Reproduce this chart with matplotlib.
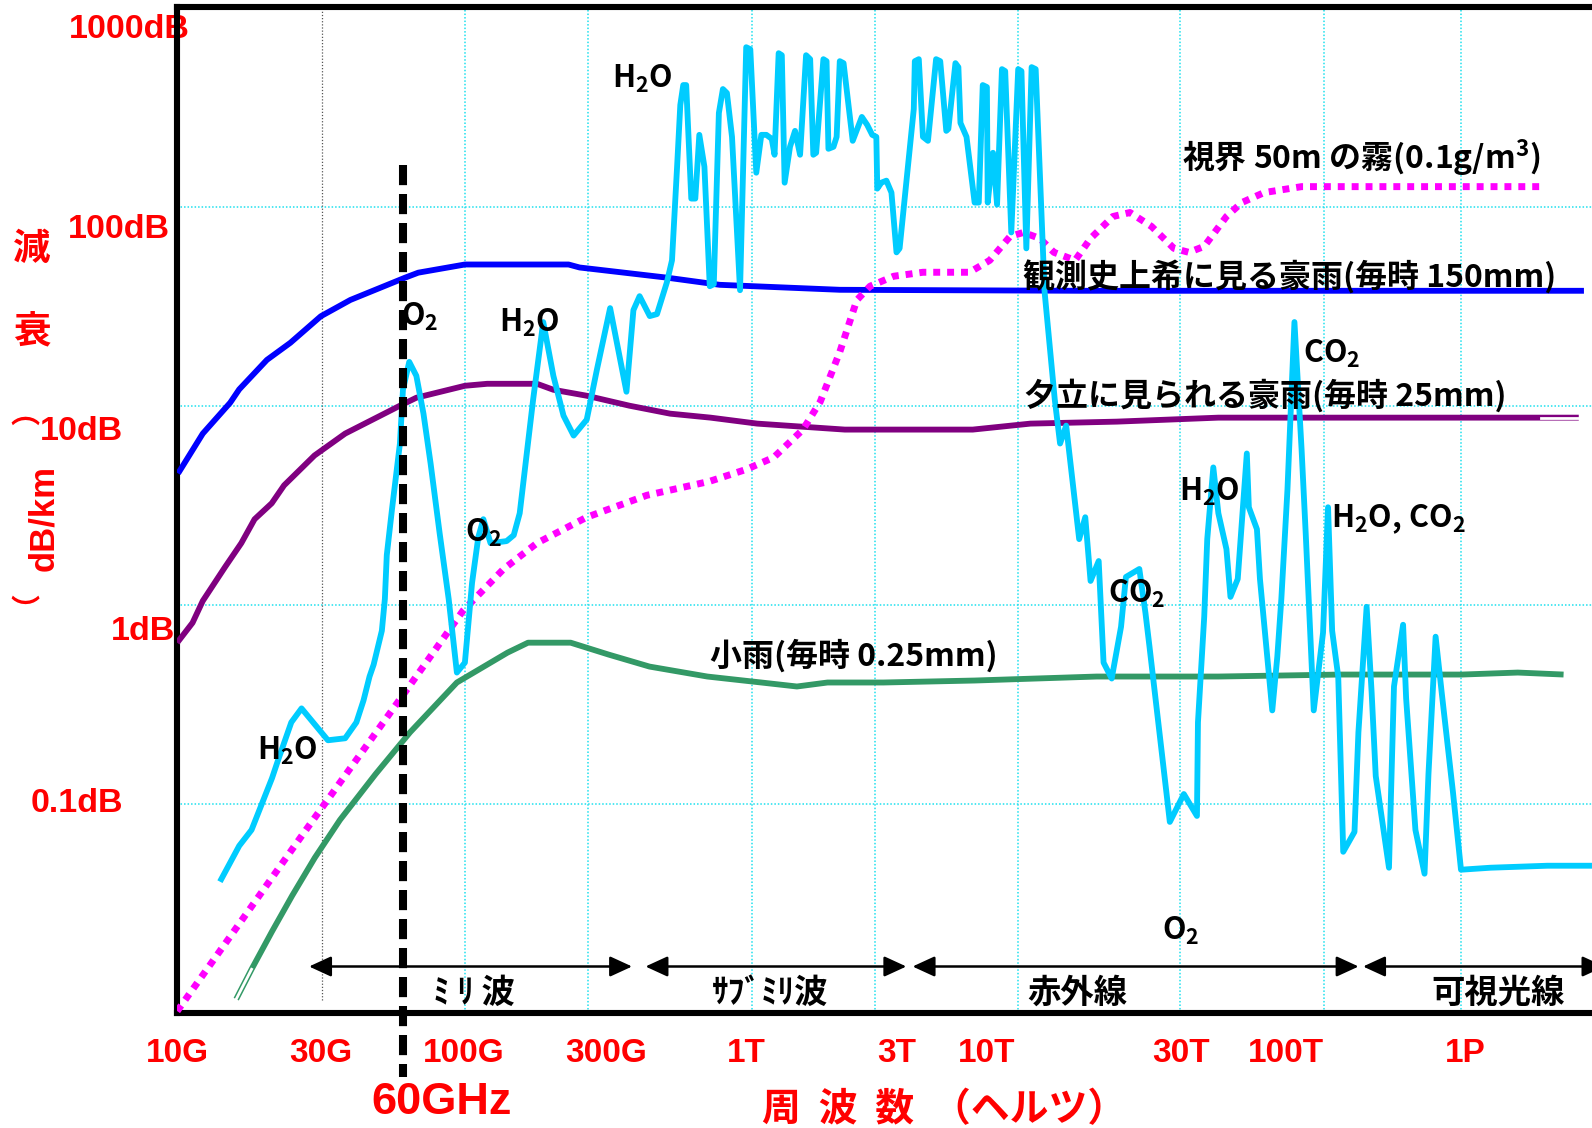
import numpy as np
import matplotlib.pyplot as plt

plt.rcParams['mathtext.fontset'] = 'custom'
plt.rcParams['mathtext.rm'] = 'Noto Sans CJK JP:bold'
plt.rcParams['mathtext.it'] = 'Noto Sans CJK JP:bold'
plt.rcParams['mathtext.bf'] = 'Noto Sans CJK JP:bold'

JP = 'Noto Sans CJK JP'
LATIN = 'Liberation Sans'
RED = '#ff0000'

# frequency values are log10(Hz), attenuation values are log10(dB/km)
freq_ticks = [10.0, 10.477, 11.0, 11.477, 12.0, 12.477, 13.0, 13.477, 14.0, 15.0]
freq_labels = ['10G', '30G', '100G', '300G', '1T', '3T', '10T', '30T', '100T', '1P']
# the frequency axis is laid out by hand, so each label has its own place along it
tick_place = [177.2, 320.8, 464.0, 606.1, 746.2, 896.5, 986.9, 1180.8, 1286.4, 1465.1]

grid_freq = [11.003, 11.416, 12.017, 12.409, 13.077, 13.475, 14.21, 14.975]
grid_freq_30g = 10.48
grid_db = [0.1, 1, 10, 100]

# heavy rain, 150 mm/h
heavy_f = [10.003, 10.085, 10.176, 10.206, 10.298, 10.376, 10.477, 10.585, 10.785,
           10.833, 11.003, 11.351, 11.388, 11.704, 11.901, 12.297, 13.23, 15.665]
heavy_db = [0.66, 0.86, 1.015, 1.082, 1.23, 1.316, 1.449, 1.531, 1.643,
            1.668, 1.709, 1.709, 1.694, 1.643, 1.607, 1.582, 1.577, 1.577]

# evening shower, 25 mm/h (last point is the open end of the stroke)
shower_f = [10.0, 10.051, 10.085, 10.159, 10.213, 10.257, 10.314, 10.355, 10.456, 10.566,
            10.666, 10.766, 10.826, 11.003, 11.078, 11.245, 11.30, 11.412, 11.564, 11.716,
            11.867, 12.035, 12.313, 12.918, 13.107, 13.32, 13.663, 14.188, 15.04, 15.426,
            15.636]
shower_db = [-0.19, -0.09, 0.02, 0.19, 0.31, 0.43, 0.51, 0.60, 0.75, 0.86,
             0.93, 1.0, 1.04, 1.10, 1.11, 1.11, 1.08, 1.05, 1.0, 0.96,
             0.94, 0.91, 0.88, 0.88, 0.91, 0.92, 0.94, 0.94, 0.94, 0.94,
             0.94]

# light rain, 0.25 mm/h (first point is the open end of the stroke)
light_f = [10.196, 10.247, 10.315, 10.382, 10.457, 10.547, 10.677, 10.803, 10.974, 11.146,
           11.215, 11.358, 11.487, 11.639, 11.855, 12.048, 12.161, 12.258, 12.435, 12.93,
           13.27, 13.663, 14.301, 14.983, 15.295, 15.551]
light_db = [-1.98, -1.83, -1.64, -1.46, -1.27, -1.08, -0.85, -0.64, -0.39, -0.24,
            -0.19, -0.19, -0.25, -0.31, -0.36, -0.39, -0.41, -0.39, -0.39, -0.38,
            -0.36, -0.36, -0.35, -0.35, -0.34, -0.35]

# fog, 50 m visibility
fog_f = [10.0, 10.423, 10.789, 10.996, 11.133, 11.245, 11.412, 11.629, 11.863, 12.0,
         12.087, 12.18, 12.235, 12.297, 12.351, 12.393, 12.468, 12.63, 12.9,
         13.007, 13.057, 13.09, 13.13, 13.165, 13.217, 13.255, 13.31, 13.352, 13.405,
         13.46, 13.517, 13.593, 13.703, 13.779, 13.889, 14.085, 14.756, 15.4375]
fog_db = [-2.04, -1.14, -0.43, -0.03, 0.18, 0.31, 0.44, 0.55, 0.62, 0.68,
          0.74, 0.88, 1.02, 1.27, 1.53, 1.60, 1.65, 1.67, 1.67,
          1.73, 1.85, 1.87, 1.84, 1.77, 1.73, 1.84, 1.95, 1.97, 1.90,
          1.79, 1.77, 1.80, 1.95, 2.02, 2.07, 2.10, 2.10, 2.10]

# atmospheric gases (O2, H2O, CO2)
gas_f = [10.142, 10.206, 10.247, 10.315, 10.335, 10.379, 10.413, 10.503, 10.566, 10.607,
         10.633, 10.655, 10.670, 10.700, 10.711, 10.718, 10.737, 10.766, 10.777, 10.800,
         10.826, 10.852, 10.878, 10.911, 10.944, 10.974, 11.003, 11.027, 11.048, 11.065,
         11.089, 11.143, 11.167, 11.187, 11.232, 11.266, 11.300, 11.334, 11.368, 11.412,
         11.446, 11.492, 11.553, 11.579, 11.602, 11.640, 11.667, 11.704, 11.723, 11.742,
         11.754, 11.765, 11.776, 11.795, 11.810, 11.825, 11.844, 11.864, 11.879, 11.898,
         11.913, 11.928, 11.947, 11.977, 12.000, 12.013, 12.032, 12.048, 12.064, 12.081,
         12.090, 12.103, 12.113, 12.122, 12.139, 12.155, 12.171, 12.190, 12.203, 12.213,
         12.222, 12.245, 12.255, 12.261, 12.277, 12.287, 12.297, 12.309, 12.338, 12.367,
         12.384, 12.400, 12.413, 12.416, 12.429, 12.445, 12.461, 12.477, 12.495, 12.577,
         12.583, 12.606, 12.630, 12.659, 12.706, 12.730, 12.765, 12.777, 12.818, 12.835,
         12.847, 12.882, 12.929, 12.953, 12.976, 13.000, 13.002, 13.015, 13.025, 13.037,
         13.045, 13.060, 13.077, 13.085, 13.097, 13.110, 13.120, 13.142, 13.167, 13.180,
         13.195, 13.227, 13.242, 13.255, 13.275, 13.287, 13.307, 13.330, 13.342, 13.375,
         13.390, 13.400, 13.450, 13.492, 13.557, 13.562, 13.593, 13.608, 13.638, 13.663,
         13.703, 13.723, 13.759, 13.804, 13.814, 13.854, 13.869, 13.930, 13.955, 13.975,
         14.006, 14.045, 14.085, 14.108, 14.153, 14.205, 14.233, 14.256, 14.290, 14.318,
         14.381, 14.403, 14.449, 14.477, 14.500, 14.574, 14.602, 14.653, 14.670, 14.722,
         14.773, 14.795, 14.835, 14.869, 14.932, 14.977, 15.142, 15.460, 15.710]
gas_db = [-1.39, -1.21, -1.13, -0.87, -0.78, -0.59, -0.52, -0.68, -0.67, -0.59,
          -0.48, -0.36, -0.30, -0.13, 0.03, 0.25, 0.48, 0.81, 1.08, 1.22,
          1.15, 0.96, 0.71, 0.36, 0.03, -0.34, -0.29, 0.11, 0.34, 0.43,
          0.31, 0.32, 0.35, 0.46, 1.03, 1.42, 1.15, 0.95, 0.85, 0.93,
          1.18, 1.49, 1.07, 1.48, 1.55, 1.45, 1.46, 1.62, 1.73, 2.20,
          2.51, 2.61, 2.61, 2.04, 2.04, 2.36, 2.20, 1.60, 1.61, 2.47,
          2.59, 2.57, 2.35, 1.58, 2.80, 2.79, 2.17, 2.36, 2.36, 2.34,
          2.26, 2.77, 2.76, 2.12, 2.30, 2.38, 2.26, 2.76, 2.74, 2.26,
          2.27, 2.74, 2.73, 2.29, 2.30, 2.35, 2.73, 2.72, 2.33, 2.45,
          2.41, 2.36, 2.35, 2.09, 2.12, 2.13, 2.07, 1.77, 1.79, 2.49,
          2.73, 2.74, 2.35, 2.33, 2.74, 2.73, 2.38, 2.39, 2.72, 2.70,
          2.42, 2.35, 2.02, 2.02, 2.61, 2.60, 2.02, 2.27, 2.01, 2.69,
          2.68, 1.87, 2.69, 2.68, 1.79, 2.70, 2.69, 1.57, 1.03, 0.81,
          0.90, 0.33, 0.44, 0.12, 0.22, -0.29, -0.37, -0.11, 0.14, 0.18,
          -0.04, -0.21, -1.09, -0.95, -1.06, -0.59, -0.06, 0.33, 0.69, 0.46,
          0.28, 0.04, 0.13, 0.76, 0.49, 0.38, 0.13, -0.53, -0.26, 0.03,
          0.58, 1.42, 0.78, 0.36, -0.53, -0.14, 0.49, -0.13, -0.36, -1.24,
          -1.14, -0.64, -0.01, -0.44, -0.86, -1.32, -0.41, -0.10, -0.47, -1.13,
          -1.35, -0.85, -0.16, -0.44, -0.94, -1.33, -1.32, -1.31, -1.31]

# frequency bands along the bottom
band_names = ['ﾐ ﾘ 波', 'ｻﾌﾞﾐﾘ波', '赤外線', '可視光線']
band_lo = [10.438, 11.624, 12.570, 14.429]
band_hi = [11.574, 12.534, 14.404, 15.78]
band_mid = [11.034, 12.076, 13.222, 15.184]

# species / curve annotations: (text, log10 f, log10 dB)
notes = [
    ('H$_2$O', 11.614, 2.641),
    ('O$_2$', 10.839, 1.446),
    ('H$_2$O', 11.219, 1.416),
    ('O$_2$', 11.065, 0.361),
    ('H$_2$O', 10.366, -0.735),
    ('H$_2$O', 13.619, 0.566),
    ('H$_2$O, CO$_2$', 14.626, 0.428),
    ('CO$_2$', 13.369, 0.056),
    ('CO$_2$', 14.251, 1.26),
    ('O$_2$', 13.476, -1.639),
]
curve_notes = [
    ('視界 50m の霧(0.1g/m$^3$)', 14.42, 2.245),
    ('観測史上希に見る豪雨(毎時 150mm)', 14.018, 1.642),
    ('夕立に見られる豪雨(毎時 25mm)', 13.895, 1.048),
    ('小雨(毎時 0.25mm)', 12.34, -0.258),
]

marker_f = np.log10(60e9)

# piecewise axis: extend the hand-placed ticks a decade on both sides
knots_f = [9.0] + freq_ticks + [16.0]
knots_p = [tick_place[0] - 301.0] + tick_place + [tick_place[-1] + 178.7]


def to_axis(v):
    return np.interp(v, knots_f, knots_p)


def from_axis(p):
    return np.interp(p, knots_p, knots_f)


W, H = 1592, 1128
fig = plt.figure(figsize=(W / 100, H / 100), dpi=100)
ax_left, ax_right, ax_top, ax_bottom = 177.2, 1600.0, 7.4, 1012.7
ax = fig.add_axes([ax_left / W, 1 - ax_bottom / H,
                   (ax_right - ax_left) / W, (ax_bottom - ax_top) / H])

ax.set_xscale('function', functions=(to_axis, from_axis))
ax.set_yscale('log')
ax.set_xlim(10.0, from_axis(ax_right))
ax.set_ylim(10 ** -2.048, 10 ** 3.0)

for s in ['left', 'top', 'bottom']:
    ax.spines[s].set_linewidth(4.4)
    ax.spines[s].set_color('black')
ax.spines['right'].set_visible(False)

# grid
grid_kw = dict(color='#1ee0ee', lw=1.1, ls=(0, (1, 1.3)), zorder=1)
for g in grid_db:
    ax.axhline(g, **grid_kw)
for g in grid_freq:
    ax.axvline(g, **grid_kw)
ax.axvline(grid_freq_30g, ymin=0.013, color='#555555', lw=0.9, ls=(0, (1, 1.5)), zorder=1)

line_kw = dict(lw=4.2, solid_joinstyle='round', solid_capstyle='butt')
light_y = 10 ** np.array(light_db)
shower_y = 10 ** np.array(shower_db)
ax.plot(light_f, light_y, color='#339966', zorder=3, **line_kw)
ax.plot(light_f[:2], light_y[:2], color='white', lw=2.0, zorder=3.1)
ax.plot(shower_f, shower_y, color='#800080', zorder=3, **line_kw)
ax.plot(shower_f[-2:], shower_y[-2:], color='white', lw=2.0, zorder=3.1)
ax.plot(heavy_f, 10 ** np.array(heavy_db), color='#0000ff', zorder=3, **line_kw)
ax.plot(fog_f, 10 ** np.array(fog_db), color='#ff00ff', lw=5.0,
        dashes=(1.0, 1.0), dash_capstyle='butt', zorder=4)
ax.plot(gas_f, 10 ** np.array(gas_db), color='#00ccff', zorder=5, **line_kw)

# 60 GHz marker, running down past the axis to its label
ax.plot([marker_f, marker_f], [10 ** 2.207, 10 ** -2.371], color='black', lw=5.8,
        dashes=(2.5, 1.1), dash_capstyle='butt', clip_on=False, zorder=6)

# bands
band_y = 10 ** -1.816
for name, lo, hi, mid in zip(band_names, band_lo, band_hi, band_mid):
    ax.annotate('', xy=(hi, band_y), xytext=(lo, band_y), annotation_clip=False,
                arrowprops=dict(arrowstyle='<|-|>,head_length=1.35,head_width=0.62',
                                mutation_scale=10, lw=1.8, color='black',
                                shrinkA=0, shrinkB=0), zorder=7)
    ax.text(mid, 10 ** -1.95, name, ha='center', va='center', fontsize=24,
            fontweight='bold', family=JP, color='black', zorder=10)

for txt, f, d in notes:
    ax.text(f, 10 ** d, txt, ha='center', va='center', fontsize=22,
            fontweight='bold', family=JP, color='black', zorder=10)
for txt, f, d in curve_notes:
    ax.text(f, 10 ** d, txt, ha='center', va='center', fontsize=23,
            fontweight='bold', family=JP, color='black', zorder=10)

# axis labels
ax.set_xticks(freq_ticks, freq_labels, fontsize=24, fontweight='bold',
              family=LATIN, color=RED)
ax.tick_params(axis='x', length=0, pad=18)
ax.set_yticks([])
ax.minorticks_off()
ax.tick_params(axis='y', which='both', length=0)

ytext = ['1000dB', '100dB', '10dB', '1dB', '0.1dB']
ytext_right = [190, 170, 123, 175, 123]
ytext_mid = [30, 230, 431, 631, 804]
for s, xr, ym in zip(ytext, ytext_right, ytext_mid):
    ax.text(xr / W, 1 - ym / H, s, transform=fig.transFigure, ha='right', va='center',
            fontsize=24.5, fontweight='bold', family=LATIN, color=RED,
            clip_on=False, zorder=1)

ax.text(442 / W, 1 - 1103 / H, '60GHz', transform=fig.transFigure, ha='center',
        va='center', fontsize=32.5, fontweight='bold', family=LATIN, color=RED)
ax.text(944 / W, 1 - 1110 / H, '周  波  数  （ヘルツ）', transform=fig.transFigure,
        ha='center', va='center', fontsize=28, fontweight='bold', family=JP, color=RED)
ax.text(31.7 / W, 1 - 248.3 / H, '減', transform=fig.transFigure, ha='center',
        va='center', fontsize=27, fontweight='bold', family=JP, color=RED)
ax.text(31.7 / W, 1 - 331 / H, '衰', transform=fig.transFigure, ha='center',
        va='center', fontsize=27, fontweight='bold', family=JP, color=RED)
ax.text(44 / W, 1 - 518 / H, 'dB/km', transform=fig.transFigure, ha='center',
        va='center', rotation=90, fontsize=25, fontweight='bold',
        family=LATIN, color=RED)
ax.text(25 / W, 1 - 414 / H, '︵', transform=fig.transFigure, ha='center',
        va='center', fontsize=21, fontweight='bold', family=JP, color=RED)
ax.text(25 / W, 1 - 611 / H, '︶', transform=fig.transFigure, ha='center',
        va='center', fontsize=21, fontweight='bold', family=JP, color=RED)

fig.savefig('out.png', dpi=100)
